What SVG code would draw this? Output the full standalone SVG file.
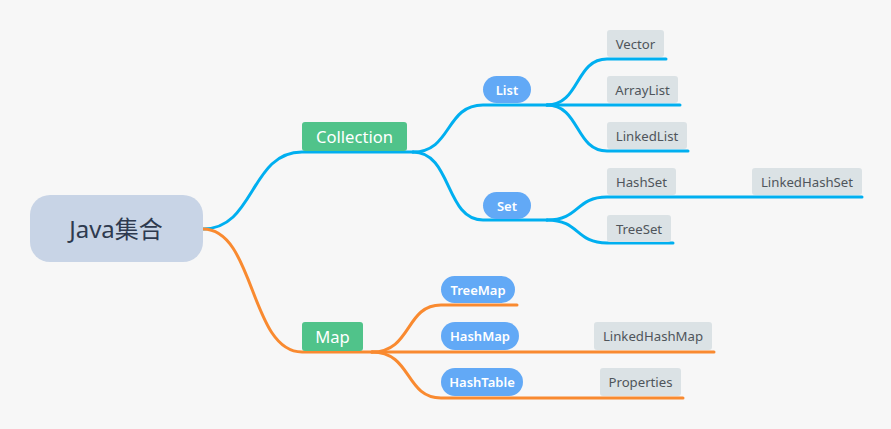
<svg xmlns="http://www.w3.org/2000/svg" width="891" height="429" viewBox="0 0 891 429">
<style>
text{font-family:"Noto Sans","Open Sans","Noto Sans CJK SC",sans-serif;text-anchor:middle;dominant-baseline:central}
.c{fill:none;stroke-width:3;stroke-linecap:round}
.b{stroke:#00aff0}
.o{stroke:#f98a30}
.g{fill:#50c38a}
.p{fill:#62a9f6}
.l{fill:#dbe2e5}
.tw{fill:#fff;font-size:16.6px}
.tp{fill:#fff;font-size:13px;font-weight:600}
.tl{fill:#4f555b;font-size:13.2px}
</style>
<rect width="891" height="429" fill="#f7f7f7"/>
<g id="connectors">
<path class="c b" d="M203,229 C255,229 250,152 302,152 L413,152"/>
<path class="c b" d="M413,152 C452,152 445,105 483,105 L547,105"/>
<path class="c b" d="M413,152 C452,152 445,220 483,220 L547,220"/>
<path class="c b" d="M547,105 C580,105 575,59 607,59 L666,59"/>
<path class="c b" d="M547,105 L680,105"/>
<path class="c b" d="M547,105 C580,105 575,151 607,151 L688,151"/>
<path class="c b" d="M547,220 C580,220 575,197 607,197 L862,197"/>
<path class="c b" d="M547,220 C580,220 575,243 607,243 L673,243"/>
<path class="c o" d="M203,229 C255,229 250,352 302,352 L372,352"/>
<path class="c o" d="M372,352 C412,352 405,305 441,305 L517,305"/>
<path class="c o" d="M372,352 L714,352"/>
<path class="c o" d="M372,352 C412,352 405,398 441,398 L683,398"/>
</g>
<g id="root"><rect x="30" y="195" width="173" height="67" rx="20" fill="#c8d4e6"/><text x="116" y="228" fill="#2e3a4f" font-size="24">Java集合</text></g>
<g id="collection"><rect class="g" x="302" y="122" width="105" height="29" rx="3"/><text class="tw" x="354.5" y="136.5">Collection</text></g>
<g id="map"><rect class="g" x="302" y="322" width="61" height="29" rx="3"/><text class="tw" x="332.5" y="336.5">Map</text></g>
<g id="list"><rect class="p" x="483" y="76" width="48" height="27" rx="13.5"/><text class="tp" x="507" y="89.5">List</text></g>
<g id="set"><rect class="p" x="483" y="192" width="48" height="27" rx="13.5"/><text class="tp" x="507" y="205.5">Set</text></g>
<g id="vector"><rect class="l" x="607" y="30" width="57" height="27" rx="3"/><text class="tl" x="635.5" y="43.5">Vector</text></g>
<g id="arraylist"><rect class="l" x="607" y="76" width="71" height="27" rx="3"/><text class="tl" x="642.5" y="89.5">ArrayList</text></g>
<g id="linkedlist"><rect class="l" x="607" y="122" width="80" height="27" rx="3"/><text class="tl" x="647" y="135.5">LinkedList</text></g>
<g id="hashset"><rect class="l" x="607" y="168" width="69" height="27" rx="3"/><text class="tl" x="641.5" y="181.5">HashSet</text></g>
<g id="linkedhashset"><rect class="l" x="752" y="168" width="110" height="27" rx="3"/><text class="tl" x="807" y="181.5">LinkedHashSet</text></g>
<g id="treeset"><rect class="l" x="607" y="215" width="64" height="27" rx="3"/><text class="tl" x="639" y="228.5">TreeSet</text></g>
<g id="treemap"><rect class="p" x="441" y="276" width="74" height="27" rx="13.5"/><text class="tp" x="478" y="289.5">TreeMap</text></g>
<g id="hashmap"><rect class="p" x="441" y="322" width="78" height="28" rx="14"/><text class="tp" x="480" y="336">HashMap</text></g>
<g id="linkedhashmap"><rect class="l" x="594" y="322" width="118" height="28" rx="3"/><text class="tl" x="653" y="336">LinkedHashMap</text></g>
<g id="hashtable"><rect class="p" x="441" y="368" width="82" height="28" rx="14"/><text class="tp" x="482" y="382">HashTable</text></g>
<g id="properties"><rect class="l" x="600" y="368" width="81" height="28" rx="3"/><text class="tl" x="640.5" y="382">Properties</text></g>
</svg>
